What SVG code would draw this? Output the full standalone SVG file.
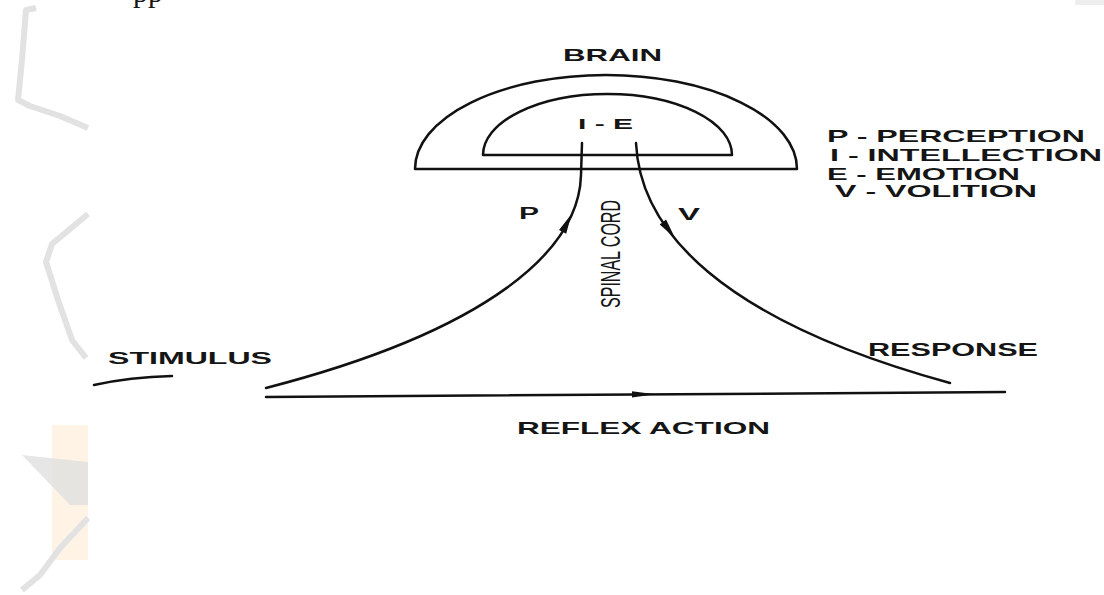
<svg xmlns="http://www.w3.org/2000/svg" width="1104" height="595" viewBox="0 0 1104 595">
<style>
.ln{fill:none;stroke:#111;stroke-width:2.5;stroke-linejoin:round;stroke-linecap:round}
.ah{fill:#111;stroke:none}
.t{font-family:"Liberation Sans",Arial,sans-serif;font-weight:bold;fill:#151515}
.wm{fill:none;stroke:#e2e2e2;stroke-width:6;stroke-linejoin:round}
</style>
<rect width="1104" height="595" fill="#ffffff"/>
<g id="watermark">
  <path class="wm" d="M36,8 L26,10 L22,60 L18,100 L30,106 L60,116 L88,128"/>
  <path class="wm" d="M88,214 L52,244 L46,262 L58,300 L72,340 L86,358"/>
  <rect x="52" y="425" width="36" height="135" fill="#fff3e6"/>
  <path d="M22,455 L88,462 L88,505 L70,505 Z" fill="#e0e0e0" opacity="0.8"/>
  <path class="wm" d="M88,518 L60,548 L40,575 L22,590"/>
  <rect x="1075" y="0" width="29" height="5" fill="#eeeeee"/>
</g>
<text class="t" x="133" y="2" style="font-family:'Liberation Serif','Times New Roman',serif;font-weight:normal;font-size:30px">pp</text>
<g id="brain">
  <path class="ln" d="M415,169 A191,94 0 0 1 797,169 Z"/>
  <text class="t" x="563" y="61" font-size="17" textLength="99" lengthAdjust="spacingAndGlyphs">BRAIN</text>
</g>
<g id="inner">
  <path class="ln" d="M483,155 A124.5,61 0 0 1 732,155 Z"/>
  <text class="t" x="578" y="129" font-size="15" textLength="55" lengthAdjust="spacingAndGlyphs">I - E</text>
</g>
<g id="connectors">
  <path class="ln" d="M582,143 L581,175 C579,250 490,330 266,388"/>
  <polygon class="ah" points="571.5,214 566.2,233.7 559,230.1"/>
  <path class="ln" d="M636,143 C640,230 720,320 950,383"/>
  <polygon class="ah" points="675,238 666.1,219.6 659.7,224.4"/>
  <path class="ln" d="M266,397 L1005,392" stroke-width="2.2"/>
  <polygon class="ah" points="655,394.2 632,391.2 632,397.4"/>
  <path class="ln" d="M94,385 Q130,377 172,376" stroke-width="2"/>
</g>
<g id="labels">
  <text class="t" x="519" y="219" font-size="16" textLength="20" lengthAdjust="spacingAndGlyphs">P</text>
  <text class="t" x="678" y="220" font-size="16" textLength="22" lengthAdjust="spacingAndGlyphs">V</text>
  <text class="t" transform="translate(610,254) rotate(-90)" x="0" y="10" text-anchor="middle" font-size="28" style="font-weight:normal" textLength="108" lengthAdjust="spacingAndGlyphs">SPINAL CORD</text>
</g>
<g id="legend">
  <text class="t" x="827" y="142" font-size="17" textLength="258" lengthAdjust="spacingAndGlyphs">P - PERCEPTION</text>
  <text class="t" x="830" y="161" font-size="17" textLength="272" lengthAdjust="spacingAndGlyphs">I - INTELLECTION</text>
  <text class="t" x="827" y="179.5" font-size="17" textLength="193" lengthAdjust="spacingAndGlyphs">E - EMOTION</text>
  <text class="t" x="835" y="197" font-size="17" textLength="202" lengthAdjust="spacingAndGlyphs">V - VOLITION</text>
</g>
<g id="stimulus">
  <text class="t" x="108" y="364" font-size="17" textLength="164" lengthAdjust="spacingAndGlyphs">STIMULUS</text>
</g>
<g id="response">
  <text class="t" x="868" y="356" font-size="18" textLength="170" lengthAdjust="spacingAndGlyphs">RESPONSE</text>
</g>
<g id="reflex">
  <text class="t" x="517" y="434" font-size="17" textLength="253" lengthAdjust="spacingAndGlyphs">REFLEX ACTION</text>
</g>
</svg>
